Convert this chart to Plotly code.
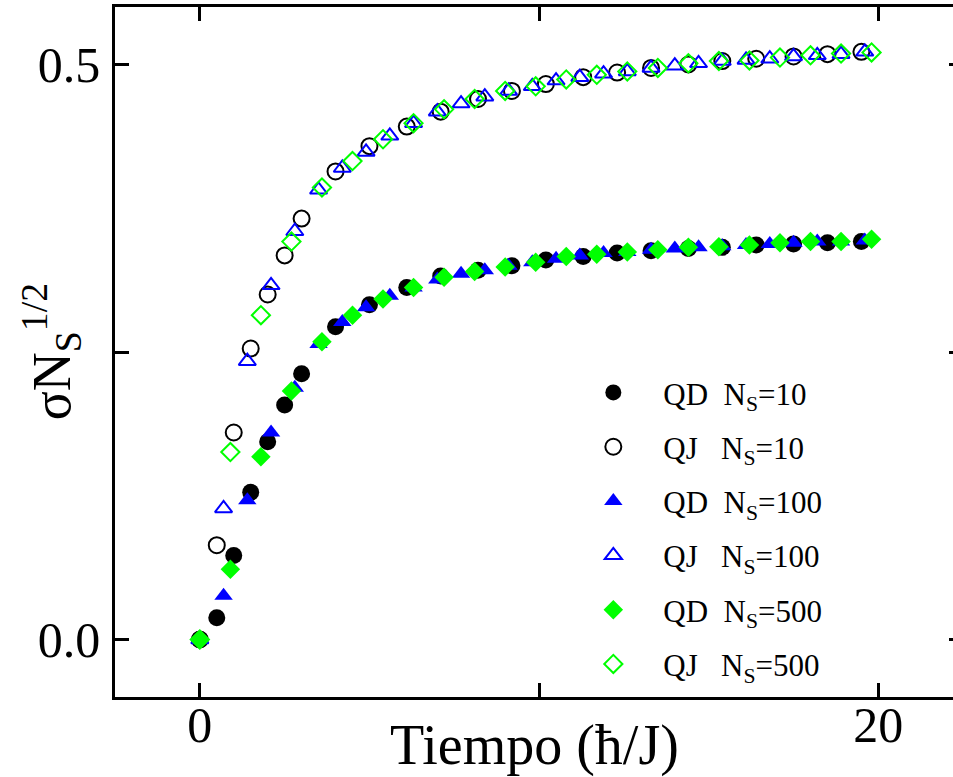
import plotly.graph_objects as go

# sampling times for each system size
t_ns10 = [0, 0.5, 1.0, 1.5, 2.0, 2.5, 3.0, 4.0, 5.0, 6.1, 7.1, 8.2, 9.2, 10.2,
          11.3, 12.3, 13.3, 14.4, 15.4, 16.4, 17.5, 18.5, 19.5]
t_ns100 = [0, 0.7, 1.4, 2.1, 2.8, 3.5, 4.2, 4.9, 5.6, 6.3, 7.0, 7.7, 8.4, 9.1,
           9.8, 10.5, 11.2, 11.9, 12.6, 13.3, 14.0, 14.7, 15.4, 16.1, 16.8,
           17.5, 18.2, 18.9, 19.6]
t_ns500 = [0, 0.9, 1.8, 2.7, 3.6, 4.5, 5.4, 6.3, 7.2, 8.1, 9.0, 9.9, 10.8,
           11.7, 12.6, 13.5, 14.4, 15.3, 16.2, 17.1, 18.0, 18.9, 19.8]

# sigma * sqrt(N_S), quantum diffusion (QD) and quantum jumps (QJ)
qd_ns10 = [0, 0.019, 0.073, 0.128, 0.172, 0.204, 0.231, 0.272, 0.291, 0.306,
           0.316, 0.321, 0.325, 0.330, 0.333, 0.336, 0.338, 0.340, 0.341,
           0.343, 0.344, 0.345, 0.346]
qj_ns10 = [0, 0.082, 0.180, 0.253, 0.300, 0.334, 0.366, 0.407, 0.429, 0.446,
           0.459, 0.470, 0.477, 0.483, 0.489, 0.493, 0.497, 0.500, 0.503,
           0.505, 0.507, 0.509, 0.511]
qd_ns100 = [0, 0.038, 0.121, 0.180, 0.219, 0.257, 0.276, 0.289, 0.299, 0.306,
            0.313, 0.318, 0.321, 0.325, 0.328, 0.331, 0.334, 0.336, 0.337,
            0.339, 0.340, 0.341, 0.342, 0.343, 0.344, 0.345, 0.346, 0.346,
            0.347]
qj_ns100 = [0, 0.114, 0.242, 0.308, 0.355, 0.391, 0.410, 0.424, 0.438, 0.449,
            0.459, 0.466, 0.472, 0.477, 0.481, 0.486, 0.489, 0.492, 0.494,
            0.497, 0.499, 0.501, 0.503, 0.504, 0.505, 0.507, 0.508, 0.509,
            0.511]
qd_ns500 = [0, 0.061, 0.159, 0.216, 0.259, 0.282, 0.296, 0.306, 0.315, 0.320,
            0.324, 0.328, 0.333, 0.335, 0.337, 0.339, 0.341, 0.3415, 0.343,
            0.345, 0.346, 0.346, 0.348]
qj_ns500 = [0, 0.163, 0.282, 0.346, 0.393, 0.416, 0.435, 0.449, 0.461, 0.470,
            0.477, 0.481, 0.487, 0.491, 0.494, 0.497, 0.501, 0.503, 0.5035,
            0.506, 0.508, 0.5095, 0.5105]

x_ticks = [0, 10, 20]
x_ticktext = ["0", "", "20"]
y_ticks = [0, 0.25, 0.5]
y_ticktext = ["0.0", "", "0.5"]

SERIF = "Liberation Serif"
NB = "\u00a0"

series = [
    ("QD" + NB * 2, "10", t_ns10, qd_ns10, "circle", "#000000", 17),
    ("QJ" + NB * 3, "10", t_ns10, qj_ns10, "circle-open", "#000000", 16),
    ("QD" + NB * 2, "100", t_ns100, qd_ns100, "triangle-up", "#0000ff", 16),
    ("QJ" + NB * 3, "100", t_ns100, qj_ns100, "triangle-up-open", "#0000ff", 15),
    ("QD" + NB * 2, "500", t_ns500, qd_ns500, "diamond", "#00ff00", 15),
    ("QJ" + NB * 3, "500", t_ns500, qj_ns500, "diamond-open", "#00ff00", 14),
]

fig = go.Figure()
for i, (method, ns, t, v, sym, col, size) in enumerate(series):
    is_open = sym.endswith("open")
    fig.add_trace(go.Scatter(
        x=t, y=v, mode="markers",
        name=f"{method}N<sub>S</sub>=" + ns,
        legendgroup=f"g{i}",
        marker=dict(symbol=sym, size=size, color=col,
                    line=dict(color=col, width=2 if is_open else 0)),
    ))

# empty trace so the right-hand tick axis is drawn
fig.add_trace(go.Scatter(x=[], y=[], yaxis="y2", showlegend=False,
                         hoverinfo="skip"))

axis_common = dict(
    showgrid=False, zeroline=False, showline=True, linecolor="black",
    linewidth=2.5, ticks="inside", ticklen=14, tickwidth=2.5,
    tickcolor="black", tickfont=dict(family=SERIF, size=50, color="black"),
)

fig.update_layout(
    width=953, height=777,
    margin=dict(l=115, r=0, t=7, b=80),
    paper_bgcolor="white", plot_bgcolor="white",
    xaxis=dict(range=[-2.5, 22.2], tickvals=x_ticks, ticktext=x_ticktext,
               mirror="ticks", ticklabelstandoff=-18, **axis_common),
    yaxis=dict(range=[-0.05, 0.55], tickvals=y_ticks, ticktext=y_ticktext,
               ticklabelstandoff=2, **axis_common),
    yaxis2=dict(range=[-0.05, 0.55], overlaying="y", side="right",
                tickvals=y_ticks, showticklabels=False, showgrid=False,
                zeroline=False, showline=False, ticks="inside", ticklen=4,
                tickwidth=2.5, tickcolor="black"),
    showlegend=True,
    legend=dict(x=0.535, y=0.48, xanchor="left", yanchor="top",
                bgcolor="rgba(0,0,0,0)", itemwidth=90, tracegroupgap=11,
                font=dict(family=SERIF, size=31, color="black")),
    annotations=[
        dict(text="Tiempo (ħ/J)", xref="paper", yref="paper", x=0.5,
             y=-0.07, xanchor="center", yanchor="middle", showarrow=False,
             font=dict(family=SERIF, size=56, color="black")),
        dict(text="σN<sub>S</sub><sup>1/2</sup>", xref="paper",
             yref="paper", x=-0.076, y=0.5, xanchor="center",
             yanchor="middle", textangle=-90, showarrow=False,
             font=dict(family=SERIF, size=54, color="black")),
    ],
)

fig.write_html("out.html")
